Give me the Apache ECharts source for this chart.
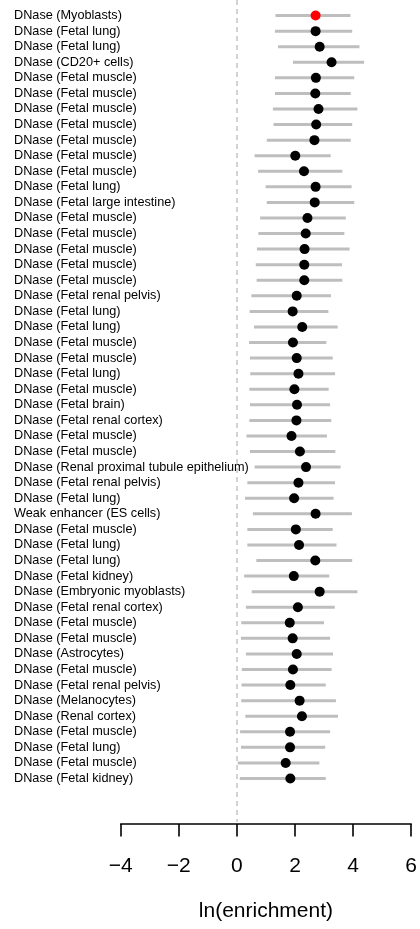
<!DOCTYPE html>
<html>
<head>
    <meta http-equiv="content-type" content="text/html; charset=utf-8">
    <script src="https://cdn.jsdelivr.net/npm/echarts@6/dist/echarts.min.js"></script>
    <style>
        html, body { margin: 0; padding: 0; background: #fff; }
        #main { width: 420px; height: 929px; }
    </style>
</head>
<body>
<div id="main"></div>
<script>
    // 标签（从上到下）
    var labels = [
        'DNase (Myoblasts)', 'DNase (Fetal lung)', 'DNase (Fetal lung)', 'DNase (CD20+ cells)',
        'DNase (Fetal muscle)', 'DNase (Fetal muscle)', 'DNase (Fetal muscle)', 'DNase (Fetal muscle)',
        'DNase (Fetal muscle)', 'DNase (Fetal muscle)', 'DNase (Fetal muscle)', 'DNase (Fetal lung)',
        'DNase (Fetal large intestine)', 'DNase (Fetal muscle)', 'DNase (Fetal muscle)', 'DNase (Fetal muscle)',
        'DNase (Fetal muscle)', 'DNase (Fetal muscle)', 'DNase (Fetal renal pelvis)', 'DNase (Fetal lung)',
        'DNase (Fetal lung)', 'DNase (Fetal muscle)', 'DNase (Fetal muscle)', 'DNase (Fetal lung)',
        'DNase (Fetal muscle)', 'DNase (Fetal brain)', 'DNase (Fetal renal cortex)', 'DNase (Fetal muscle)',
        'DNase (Fetal muscle)', 'DNase (Renal proximal tubule epithelium)', 'DNase (Fetal renal pelvis)', 'DNase (Fetal lung)',
        'Weak enhancer (ES cells)', 'DNase (Fetal muscle)', 'DNase (Fetal lung)', 'DNase (Fetal lung)',
        'DNase (Fetal kidney)', 'DNase (Embryonic myoblasts)', 'DNase (Fetal renal cortex)', 'DNase (Fetal muscle)',
        'DNase (Fetal muscle)', 'DNase (Astrocytes)', 'DNase (Fetal muscle)', 'DNase (Fetal renal pelvis)',
        'DNase (Melanocytes)', 'DNase (Renal cortex)', 'DNase (Fetal muscle)', 'DNase (Fetal lung)',
        'DNase (Fetal muscle)', 'DNase (Fetal kidney)'
    ];
    // ln(enrichment) 估计值
    var est = [
        2.71, 2.71, 2.85, 3.26, 2.72, 2.70, 2.81, 2.73, 2.67, 2.01,
        2.31, 2.71, 2.68, 2.43, 2.37, 2.33, 2.32, 2.32, 2.06, 1.92,
        2.25, 1.93, 2.06, 2.12, 1.98, 2.07, 2.05, 1.88, 2.17, 2.38,
        2.12, 1.97, 2.71, 2.03, 2.14, 2.70, 1.96, 2.85, 2.10, 1.82,
        1.92, 2.06, 1.93, 1.84, 2.16, 2.24, 1.83, 1.83, 1.68, 1.84
    ];
    // 置信区间下限
    var lo = [
        1.33, 1.31, 1.42, 1.93, 1.31, 1.31, 1.24, 1.26, 1.03, 0.61,
        0.73, 0.99, 1.03, 0.80, 0.74, 0.69, 0.65, 0.68, 0.50, 0.44,
        0.59, 0.42, 0.45, 0.46, 0.43, 0.45, 0.43, 0.33, 0.45, 0.61,
        0.36, 0.28, 0.55, 0.36, 0.36, 0.67, 0.25, 0.51, 0.31, 0.15,
        0.14, 0.31, 0.17, 0.16, 0.15, 0.29, 0.11, 0.14, 0.03, 0.10
    ];
    // 置信区间上限
    var hi = [
        3.91, 3.97, 4.22, 4.38, 4.04, 3.92, 4.15, 3.97, 3.92, 3.23,
        3.63, 3.95, 4.04, 3.75, 3.70, 3.88, 3.62, 3.63, 3.24, 3.15,
        3.47, 3.08, 3.30, 3.38, 3.16, 3.21, 3.25, 3.10, 3.39, 3.57,
        3.38, 3.33, 3.96, 3.30, 3.43, 3.97, 3.18, 4.15, 3.37, 3.00,
        3.21, 3.31, 3.26, 3.06, 3.41, 3.48, 3.21, 3.04, 2.84, 3.06
    ];
    var xTicks = [-4, -2, 0, 2, 4, 6];
    var highlight = 0; // 第一行标红

    var pointData = est.map(function (v, i) {
        return {
            value: [v, i + 1],
            itemStyle: { color: i === highlight ? '#ff0000' : '#000000' }
        };
    });
    var barData = est.map(function (v, i) {
        return [lo[i], hi[i], i + 1];
    });

    var chart = echarts.init(document.getElementById('main'));
    var option = {
        animation: false,
        textStyle: { fontFamily: 'Liberation Sans, Arial, sans-serif' },
        grid: { left: 120.7, right: 6.3, top: 0, height: 822 },
        xAxis: {
            type: 'value',
            position: 'bottom',
            min: xTicks[0],
            max: xTicks[xTicks.length - 1],
            interval: 2,
            offset: 2,
            axisLine: { show: true, onZero: false, lineStyle: { color: '#000', width: 1.6 } },
            axisTick: { show: true, length: 12.5, lineStyle: { color: '#000', width: 1.6 } },
            axisLabel: {
                margin: 32,
                fontSize: 21,
                color: '#000',
                formatter: function (v) { return String(v).replace('-', '\u2212'); }
            },
            splitLine: { show: false },
            name: 'ln(enrichment)',
            nameLocation: 'middle',
            nameGap: 77,
            nameTextStyle: { fontSize: 21, color: '#000' }
        },
        yAxis: {
            type: 'value',
            inverse: true,
            min: 0,
            max: 822 / 15.57,
            interval: 1,
            axisLine: { show: false },
            axisTick: { show: false },
            splitLine: { show: false },
            axisLabel: {
                align: 'left',
                margin: 106.7,
                fontSize: 12.7,
                color: '#000',
                showMinLabel: false,
                showMaxLabel: false,
                formatter: function (v) {
                    return (v >= 1 && v <= labels.length) ? labels[v - 1] : '';
                }
            }
        },
        series: [
            {
                type: 'custom',
                data: barData,
                encode: { x: [0, 1], y: 2 },
                renderItem: function (params, api) {
                    var a = api.coord([api.value(0), api.value(2)]);
                    var b = api.coord([api.value(1), api.value(2)]);
                    return {
                        type: 'line',
                        shape: { x1: a[0], y1: a[1], x2: b[0], y2: b[1] },
                        style: { stroke: '#bebebe', lineWidth: 3 }
                    };
                },
                z: 2
            },
            {
                type: 'scatter',
                data: pointData,
                symbolSize: 10,
                itemStyle: { opacity: 1 },
                z: 3,
                markLine: {
                    silent: true,
                    symbol: 'none',
                    label: { show: false },
                    lineStyle: { color: '#c4c4c4', type: [5, 4], width: 1.5 },
                    data: [{ xAxis: 0 }]
                }
            }
        ]
    };
    chart.setOption(option);
</script>
</body>
</html>
